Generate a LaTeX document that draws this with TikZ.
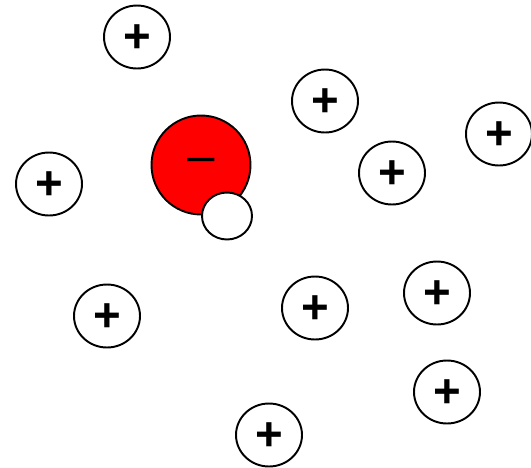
\documentclass[tikz,border=0pt]{standalone}
\usepackage{fontspec}
\setmainfont{Liberation Sans}
\usetikzlibrary{shapes.geometric}

\begin{document}
\begin{tikzpicture}[
    x=0.02cm, y=-0.02cm,
    cation/.style={draw, ellipse, line width=1.1pt, fill=white, inner sep=0pt,
        minimum width=1.32cm, minimum height=1.26cm, text height=18pt, text depth=0pt,
        font=\fontsize{27}{30}\selectfont\bfseries},
    anion/.style={draw, circle, line width=1.1pt, fill=red, inner sep=0pt,
        minimum size=1.98cm, font=\fontsize{28}{30}\selectfont},
    partner/.style={draw, ellipse, line width=1.1pt, fill=white, inner sep=0pt,
        minimum width=1.0cm, minimum height=0.94cm},
]
\useasboundingbox (0,0) rectangle (531,467);

% Cations
\node[cation] (cTop) at (137,37) {+};
\node[cation] (cLeft) at (49,184) {+};
\node[cation] (cMid) at (325,101) {+};
\node[cation] (cRight) at (499,134) {+};
\node[cation] (cCenter) at (392,173) {+};
\node[cation] (cLowLeft) at (107,316) {+};
\node[cation] (cLow) at (315,308) {+};
\node[cation] (cLowRight) at (437,293) {+};
\node[cation] (cFarRight) at (447,392) {+};
\node[cation] (cBottom) at (269,435) {+};

% Anion with its small partner
\node[anion] (anion) at (201,165) {–};
\node[partner] (small) at (227,216) {};
\end{tikzpicture}
\end{document}
